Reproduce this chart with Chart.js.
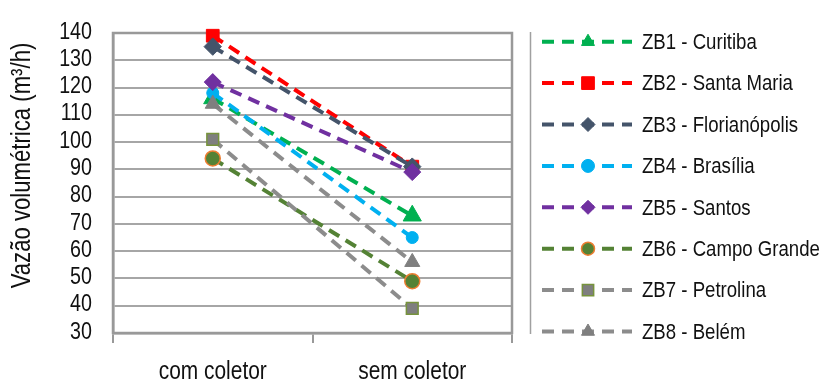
<!DOCTYPE html>
<html>
<head>
<meta charset="utf-8">
<script src="https://cdn.jsdelivr.net/npm/chart.js@4.4.1/dist/chart.umd.min.js"></script>
<style>
  html, body { margin: 0; padding: 0; background: #fff; }
  #chart { display: block; }
</style>
</head>
<body>
<canvas id="chart" width="824" height="385" style="width:824px;height:385px"></canvas>
<script>
// ---- data ----
const categories = ['com coletor', 'sem coletor'];
const seriesNames = [
  'ZB1 - Curitiba', 'ZB2 - Santa Maria', 'ZB3 - Florianópolis', 'ZB4 - Brasília',
  'ZB5 - Santos', 'ZB6 - Campo Grande', 'ZB7 - Petrolina', 'ZB8 - Belém'
];
const comColetor = [116, 139, 135, 118, 122, 94, 101, 114];
const semColetor = [73, 91, 91, 65, 89, 49, 39, 56];
const yMin = 30, yMax = 140, yStep = 10;
const yTitle = 'Vazão volumétrica (m³/h)';

// ---- styles ----
const lineColors   = ['#00b050', '#ff0000', '#44546a', '#00b0f0', '#7030a0', '#548235', '#8c8c8c', '#8c8c8c'];
const pointFills   = ['#00b050', '#ff0000', '#44546a', '#00b0f0', '#7030a0', '#548235', '#7f7f7f', '#7f7f7f'];
const pointBorders = ['#00b050', '#ff0000', '#44546a', '#00b0f0', '#7030a0', '#ed7d31', '#77933c', '#7f7f7f'];
const pointStyles  = ['triangle', 'rect', 'rectRot', 'circle', 'rectRot', 'circle', 'rect', 'triangle'];
const pointRadii   = [10.5, 9, 8.7, 6, 8.5, 7.5, 8.3, 8.7];
const legendRadii  = [7.5, 9, 7, 6.5, 7, 6.5, 8, 7.5];

const FONT = '"Liberation Sans", Arial, sans-serif';
const NARROW = 0.82;   // no narrow face installed: squeeze the regular one
const TEXT = '#111';
const DASH = [12, 7.5];

const PLOT = { left: 113, top: 33, right: 512, bottom: 333 };

// draw condensed text (x,y is the anchor, before rotation)
function narrowText(ctx, text, x, y, size, align, rotate) {
  ctx.save();
  ctx.translate(x, y);
  if (rotate) ctx.rotate(rotate);
  ctx.scale(NARROW, 1);
  ctx.font = size + 'px ' + FONT;
  ctx.fillStyle = TEXT;
  ctx.textAlign = align;
  ctx.textBaseline = 'middle';
  ctx.fillText(text, 0, 0);
  ctx.restore();
}

const datasets = seriesNames.map((name, i) => ({
  label: name,
  data: [comColetor[i], semColetor[i]],
  borderColor: lineColors[i],
  borderWidth: 4,
  borderDash: DASH,
  backgroundColor: pointFills[i],
  pointStyle: pointStyles[i],
  pointRadius: pointRadii[i],
  pointBackgroundColor: pointFills[i],
  pointBorderColor: pointBorders[i],
  pointBorderWidth: (i === 5 || i === 6) ? 1.5 : 1,
  tension: 0,
  clip: false,
  order: seriesNames.length - i   // later series drawn on top
}));

// frame + axis texts, placed from the chart's own scales
const axisText = {
  id: 'axisText',
  beforeDatasetsDraw(chart) {
    const { ctx, chartArea: a, scales } = chart;
    ctx.save();
    ctx.strokeStyle = '#999';
    ctx.lineWidth = 2.5;
    ctx.strokeRect(a.left, a.top, a.right - a.left, a.bottom - a.top);
    ctx.restore();

    scales.y.ticks.forEach(t => {
      narrowText(ctx, String(t.value), a.left - 21, scales.y.getPixelForValue(t.value) - 1, 24, 'right');
    });
    categories.forEach((c, i) => {
      narrowText(ctx, c, scales.x.getPixelForValue(i), 372, 25.5, 'center');
    });
    narrowText(ctx, yTitle, 23, 165.5, 27, 'center', -Math.PI / 2);
  }
};

// legend with dashed line + marker samples
const sideLegend = {
  id: 'sideLegend',
  afterDraw(chart) {
    const { ctx } = chart;
    ctx.save();
    ctx.strokeStyle = '#a0a0a0';
    ctx.lineWidth = 1.5;
    ctx.beginPath();
    ctx.moveTo(530.5, 32);
    ctx.lineTo(530.5, 334);
    ctx.stroke();
    ctx.restore();

    chart.data.datasets.forEach((ds, i) => {
      const y = 41.7 + i * 41.4;
      ctx.save();
      ctx.strokeStyle = ds.borderColor;
      ctx.lineWidth = 4;
      ctx.setLineDash([12, 8]);
      ctx.beginPath();
      ctx.moveTo(542, y);
      ctx.lineTo(632, y);
      ctx.stroke();
      ctx.restore();

      ctx.save();
      ctx.fillStyle = ds.pointBackgroundColor;
      ctx.strokeStyle = ds.pointBorderColor;
      ctx.lineWidth = ds.pointBorderWidth;
      Chart.helpers.drawPoint(ctx, {
        pointStyle: ds.pointStyle,
        radius: legendRadii[i],
        borderWidth: ds.pointBorderWidth,
        rotation: 0
      }, 588, y);
      ctx.restore();

      narrowText(ctx, ds.label, 642, y + 1, 22.7, 'left');
    });
  }
};

new Chart(document.getElementById('chart'), {
  type: 'line',
  data: { labels: categories, datasets },
  options: {
    responsive: false,
    animation: false,
    layout: { padding: { top: PLOT.top, right: 824 - PLOT.right, bottom: 0, left: 0 } },
    plugins: { legend: { display: false }, tooltip: { enabled: false } },
    scales: {
      x: {
        type: 'category',
        offset: true,
        afterFit(scale) { scale.height = 385 - PLOT.bottom; },
        grid: {
          offset: true,
          drawOnChartArea: false,
          drawTicks: true,
          tickLength: 10,
          color: '#999',
          lineWidth: 2
        },
        border: { display: true, color: '#999', width: 2.5 },
        ticks: { display: false }
      },
      y: {
        min: yMin,
        max: yMax,
        afterFit(scale) { scale.width = PLOT.left; },
        ticks: { stepSize: yStep, autoSkip: false, display: false },
        grid: { color: '#a6a6a6', lineWidth: 2, drawTicks: false },
        border: { display: true, color: '#999', width: 2.5 }
      }
    }
  },
  plugins: [axisText, sideLegend]
});
</script>
</body>
</html>
